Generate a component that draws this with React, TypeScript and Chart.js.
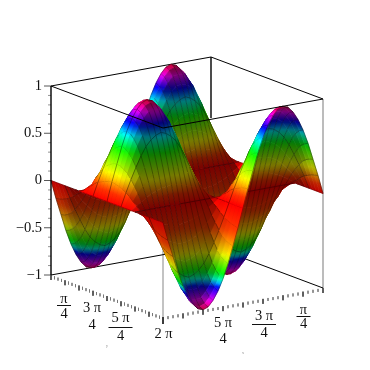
import React, { useEffect, useRef } from "react";
import { Chart, registerables } from "chart.js";
Chart.register(...registerables);

// Surface heights. Each list is one row across x (0 to 2 pi, 33 nodes).
const r100 = [0,.2,.38,.56,.71,.83,.92,.98,1,.98,.92,.83,.71,.56,.38,.2,0,-.2,-.38,-.56,-.71,-.83,-.92,-.98,-1,-.98,-.92,-.83,-.71,-.56,-.38,-.2,0];
const r98 = [0,.19,.37,.54,.69,.81,.9,.96,.98,.96,.9,.81,.69,.54,.37,.19,0,-.19,-.37,-.54,-.69,-.81,-.9,-.96,-.98,-.96,-.9,-.81,-.69,-.54,-.37,-.19,0];
const r92 = [0,.18,.35,.51,.65,.77,.85,.91,.92,.91,.85,.77,.65,.51,.35,.18,0,-.18,-.35,-.51,-.65,-.77,-.85,-.91,-.92,-.91,-.85,-.77,-.65,-.51,-.35,-.18,0];
const r83 = [0,.16,.32,.46,.59,.69,.77,.82,.83,.82,.77,.69,.59,.46,.32,.16,0,-.16,-.32,-.46,-.59,-.69,-.77,-.82,-.83,-.82,-.77,-.69,-.59,-.46,-.32,-.16,0];
const r71 = [0,.14,.27,.39,.5,.59,.65,.69,.71,.69,.65,.59,.5,.39,.27,.14,0,-.14,-.27,-.39,-.5,-.59,-.65,-.69,-.71,-.69,-.65,-.59,-.5,-.39,-.27,-.14,0];
const r56 = [0,.11,.21,.31,.39,.46,.51,.54,.56,.54,.51,.46,.39,.31,.21,.11,0,-.11,-.21,-.31,-.39,-.46,-.51,-.54,-.56,-.54,-.51,-.46,-.39,-.31,-.21,-.11,0];
const r38 = [0,.07,.15,.21,.27,.32,.35,.37,.38,.37,.35,.32,.27,.21,.15,.07,0,-.07,-.15,-.21,-.27,-.32,-.35,-.37,-.38,-.37,-.35,-.32,-.27,-.21,-.15,-.07,0];
const r20 = [0,.04,.07,.11,.14,.16,.18,.19,.2,.19,.18,.16,.14,.11,.07,.04,0,-.04,-.07,-.11,-.14,-.16,-.18,-.19,-.2,-.19,-.18,-.16,-.14,-.11,-.07,-.04,0];
const r0 = [0,0,0,0,0,0,0,0,0,0,0,0,0,0,0,0,0,0,0,0,0,0,0,0,0,0,0,0,0,0,0,0,0];
const n20 = [0,-.04,-.07,-.11,-.14,-.16,-.18,-.19,-.2,-.19,-.18,-.16,-.14,-.11,-.07,-.04,0,.04,.07,.11,.14,.16,.18,.19,.2,.19,.18,.16,.14,.11,.07,.04,0];
const n38 = [0,-.07,-.15,-.21,-.27,-.32,-.35,-.37,-.38,-.37,-.35,-.32,-.27,-.21,-.15,-.07,0,.07,.15,.21,.27,.32,.35,.37,.38,.37,.35,.32,.27,.21,.15,.07,0];
const n56 = [0,-.11,-.21,-.31,-.39,-.46,-.51,-.54,-.56,-.54,-.51,-.46,-.39,-.31,-.21,-.11,0,.11,.21,.31,.39,.46,.51,.54,.56,.54,.51,.46,.39,.31,.21,.11,0];
const n71 = [0,-.14,-.27,-.39,-.5,-.59,-.65,-.69,-.71,-.69,-.65,-.59,-.5,-.39,-.27,-.14,0,.14,.27,.39,.5,.59,.65,.69,.71,.69,.65,.59,.5,.39,.27,.14,0];
const n83 = [0,-.16,-.32,-.46,-.59,-.69,-.77,-.82,-.83,-.82,-.77,-.69,-.59,-.46,-.32,-.16,0,.16,.32,.46,.59,.69,.77,.82,.83,.82,.77,.69,.59,.46,.32,.16,0];
const n92 = [0,-.18,-.35,-.51,-.65,-.77,-.85,-.91,-.92,-.91,-.85,-.77,-.65,-.51,-.35,-.18,0,.18,.35,.51,.65,.77,.85,.91,.92,.91,.85,.77,.65,.51,.35,.18,0];
const n98 = [0,-.19,-.37,-.54,-.69,-.81,-.9,-.96,-.98,-.96,-.9,-.81,-.69,-.54,-.37,-.19,0,.19,.37,.54,.69,.81,.9,.96,.98,.96,.9,.81,.69,.54,.37,.19,0];
const n100 = [0,-.2,-.38,-.56,-.71,-.83,-.92,-.98,-1,-.98,-.92,-.83,-.71,-.56,-.38,-.2,0,.2,.38,.56,.71,.83,.92,.98,1,.98,.92,.83,.71,.56,.38,.2,0];
// Rows in y order, 0 to 2 pi.
const zRows = [r100,r98,r92,r83,r71,r56,r38,r20,r0,n20,n38,n56,n71,n83,n92,n98,n100,n98,n92,n83,n71,n56,n38,n20,r0,r20,r38,r56,r71,r83,r92,r98,r100];

const zTickValues = [1,.9,.8,.7,.6,.5,.4,.3,.2,.1,0,-.1,-.2,-.3,-.4,-.5,-.6,-.7,-.8,-.9,-1];
const zTickLabels = ["1","0.5","0","\u22120.5","\u22121"];
const zLabelValues = [1,.5,0,-.5,-1];
const axisTickCount = 32;
const axisMajorEvery = 4;
const hueAbsZUp = [0,.1,.25,.5,.65,.78,.87,1];
const hueDegUp = [0,12,55,110,170,235,280,345];
const hueAbsZDown = [0,.25,.47,.66,.74,.8,.9,1];
const hueDegDown = [0,15,55,120,175,240,285,340];

const N = 32;
const gridEvery = 4;
const project = (u: number, v: number, w: number) => ({ x: 211 - 160 * u + 112 * v, y: 246 + 29 * u + 42 * v - 189 * w });
const camera = [0.556, 0.794, 0.262];
const light = (() => { const l = [0.45, -0.75, 0.45]; const m = Math.hypot(l[0], l[1], l[2]); return l.map((a) => a / m); })();
const dot = (a: number[], b: number[]) => a[0] * b[0] + a[1] * b[1] + a[2] * b[2];

function hueOf(z: number) {
  const a = Math.min(1, Math.abs(z));
  const xs = z >= 0 ? hueAbsZUp : hueAbsZDown;
  const hs = z >= 0 ? hueDegUp : hueDegDown;
  for (let k = 1; k < xs.length; k++) {
    if (a <= xs[k]) return hs[k - 1] + ((a - xs[k - 1]) / (xs[k] - xs[k - 1])) * (hs[k] - hs[k - 1]);
  }
  return hs[hs.length - 1];
}
function hsv(h: number, v: number) {
  const f = (n: number) => { const k = (n + h / 60) % 6; return Math.round(255 * v * (1 - Math.max(0, Math.min(k, 4 - k, 1)))); };
  return `rgb(${f(5)},${f(3)},${f(1)})`;
}

function makeQuad(ctx: CanvasRenderingContext2D, i: number, j: number) {
  const w = (z: number) => (z + 1) / 2;
  const z00 = zRows[j][i], z10 = zRows[j][i + 1], z01 = zRows[j + 1][i], z11 = zRows[j + 1][i + 1];
  const p00 = project(i / N, j / N, w(z00)), p10 = project((i + 1) / N, j / N, w(z10));
  const p01 = project(i / N, (j + 1) / N, w(z01)), p11 = project((i + 1) / N, (j + 1) / N, w(z11));
  const dwu = (w(z10) - w(z00) + w(z11) - w(z01)) / 2 * N;
  const dwv = (w(z01) - w(z00) + w(z11) - w(z10)) / 2 * N;
  const m = Math.hypot(dwu, dwv, 1);
  let n = [-dwu / m, -dwv / m, 1 / m];
  if (dot(n, camera) < 0) n = n.map((a) => -a);
  const shade = Math.min(1, 0.48 + 1.0 * Math.max(0, dot(n, light)));
  // Colour varies with height across the cell.
  const zc = (z00 + z10 + z01 + z11) / 4;
  const cx = (p00.x + p10.x + p01.x + p11.x) / 4, cy = (p00.y + p10.y + p01.y + p11.y) / 4;
  const e1x = (p10.x - p00.x + p11.x - p01.x) / 2, e1y = (p10.y - p00.y + p11.y - p01.y) / 2, d1 = (z10 - z00 + z11 - z01) / 2;
  const e2x = (p01.x - p00.x + p11.x - p10.x) / 2, e2y = (p01.y - p00.y + p11.y - p10.y) / 2, d2 = (z01 - z00 + z11 - z10) / 2;
  const det = e1x * e2y - e1y * e2x;
  const gx = (d1 * e2y - d2 * e1y) / det, gy = (e1x * d2 - e2x * d1) / det;
  const g2 = gx * gx + gy * gy;
  const zMin = Math.min(z00, z10, z01, z11), zMax = Math.max(z00, z10, z01, z11);
  let paint: any = hsv(hueOf(zc), shade);
  if (g2 > 1e-9 && zMax > zMin) {
    const grad = ctx.createLinearGradient(cx + gx * (zMin - zc) / g2, cy + gy * (zMin - zc) / g2, cx + gx * (zMax - zc) / g2, cy + gy * (zMax - zc) / g2);
    for (let t = 0; t <= 4; t++) grad.addColorStop(t / 4, hsv(hueOf(zMin + (zMax - zMin) * t / 4), shade));
    paint = grad;
  }
  return { p00, p10, p01, p11, paint };
}

const line = (pts: { x: number; y: number }[], color: string, width: number) => ({ data: pts, showLine: true, pointRadius: 0, borderColor: color, borderWidth: width, fill: false, tension: 0 });

function buildDatasets(ctx: CanvasRenderingContext2D) {
  const top = 1, bot = 0;
  const cLeft = [1, 0], cRight = [0, 1], cFront = [1, 1], cBack = [0, 0];
  const P = (c: number[], w: number) => project(c[0], c[1], w);
  const frontLines = [
    line([P(cLeft, top), P(cFront, top)], "#000", 1),
    line([P(cFront, top), P(cRight, top)], "#000", 1),
    line([P(cBack, top), { x: 211, y: 118 }], "#000", 1.4),
    line([P(cLeft, top), P(cLeft, bot)], "#000", 1.4),
  ];
  const backLines = [
    line([P(cLeft, top), P(cBack, top)], "#000", 1),
    line([P(cBack, top), P(cRight, top)], "#000", 1),
    line([P(cLeft, bot), P(cBack, bot)], "#000", 1),
    line([P(cBack, bot), P(cRight, bot)], "#000", 1),
    line([P(cFront, bot), { x: 163, y: 250 }], "#aaa", 1.4),
    line([P(cRight, top), P(cRight, bot)], "#b5b5b5", 1.8),
  ];
  const tickLines: any[] = [];
  zTickValues.forEach((z) => {
    const p = P(cLeft, (z + 1) / 2);
    const major = zLabelValues.includes(z);
    tickLines.push(line([{ x: p.x - (major ? 7 : 3), y: p.y }, p], major ? "#444" : "#888", 0.9));
  });
  for (let k = 0; k <= axisTickCount; k++) {
    const major = k % axisMajorEvery === 0;
    const a = project(1, k / axisTickCount, 0);
    const b2 = project(k / axisTickCount, 1, 0);
    const len = k === axisTickCount ? 7 : major ? 5 : 3;
    tickLines.push(line([a, { x: a.x, y: a.y + len }], major ? "#333" : "#777", 0.8));
    tickLines.push(line([b2, { x: b2.x, y: b2.y + len }], major ? "#333" : "#777", 0.8));
  }
  const cells: { depth: number; sets: any[] }[] = [];
  for (let j = 0; j < N; j++) for (let i = 0; i < N; i++) {
    const q = makeQuad(ctx, i, j);
    const zm = (zRows[j][i] + zRows[j + 1][i + 1]) / 2;
    const depth = dot([(i + .5) / N, (j + .5) / N, (zm + 1) / 2], camera);
    const fillSet = { data: [q.p00, q.p10, q.p11, q.p01, q.p00], showLine: true, pointRadius: 0, fill: "shape", backgroundColor: q.paint, borderColor: q.paint, borderWidth: 0.7, tension: 0 };
    const dense: any[] = [q.p00, q.p01];
    if (i === N - 1) dense.push({ x: NaN, y: NaN }, q.p10, q.p11);
    const sets: any[] = [line(dense, "rgba(0,0,0,0.4)", 0.7)];
    if (j % gridEvery === 0) sets.push(line([q.p00, q.p10], "rgba(0,0,0,0.45)", 0.8));
    if (j === N - 1) sets.push(line([q.p01, q.p11], "rgba(0,0,0,0.45)", 0.8));
    sets.push(fillSet);
    cells.push({ depth, sets });
  }
  cells.sort((a, b) => b.depth - a.depth);
  return [...frontLines, ...tickLines, ...cells.flatMap((c) => c.sets), ...backLines];
}

const textPlugin = {
  id: "axisText",
  afterDraw(chart: any) {
    const c = chart.ctx;
    c.save();
    c.fillStyle = "#111";
    c.textBaseline = "middle";
    c.font = '14.5px "Liberation Serif"';
    c.textAlign = "right";
    zLabelValues.forEach((z, k) => {
      const p = project(1, 0, (z + 1) / 2);
      c.fillText(zTickLabels[k], p.x - 9, p.y);
    });
    c.textAlign = "center";
    const frac = (x: number, yTop: number, top: string, bar: number, yBar: number, yBot: number) => {
      c.fillText(top, x, yTop);
      if (bar) { c.fillRect(x - bar / 2, yBar, bar, 1); }
      c.fillText("4", x, yBot);
    };
    frac(64, 299, "\u03c0", 14, 305, 314);
    frac(92, 308, "3 \u03c0", 0, 0, 325);
    frac(120.5, 318, "5 \u03c0", 24, 327, 336);
    c.fillText("2 \u03c0", 163.5, 334);
    frac(223, 323, "5 \u03c0", 0, 0, 339);
    frac(264, 316, "3 \u03c0", 24, 324, 333);
    frac(303.5, 310, "\u03c0", 14, 316, 324);
    c.fillStyle = "#888";
    c.font = '4px "Liberation Serif"';
    c.fillText("y", 107, 346);
    c.fillText("x", 243, 353);
    c.restore();
  },
};

export default function App() {
  const ref = useRef<HTMLCanvasElement>(null);
  useEffect(() => {
    document.body.style.margin = "0";
    const ctx = ref.current!.getContext("2d")!;
    const chart = new Chart(ctx, {
      type: "scatter",
      data: { datasets: buildDatasets(ctx) as any },
      plugins: [textPlugin],
      options: {
        animation: false,
        responsive: false,
        events: [],
        layout: { padding: 0 },
        scales: {
          x: { type: "linear", min: 0, max: 370, display: false },
          y: { type: "linear", min: 0, max: 370, reverse: true, display: false },
        },
        plugins: { legend: { display: false }, tooltip: { enabled: false } },
      },
    });
    return () => chart.destroy();
  }, []);
  return <canvas ref={ref} width={370} height={370} style={{ display: "block" }} />;
}
